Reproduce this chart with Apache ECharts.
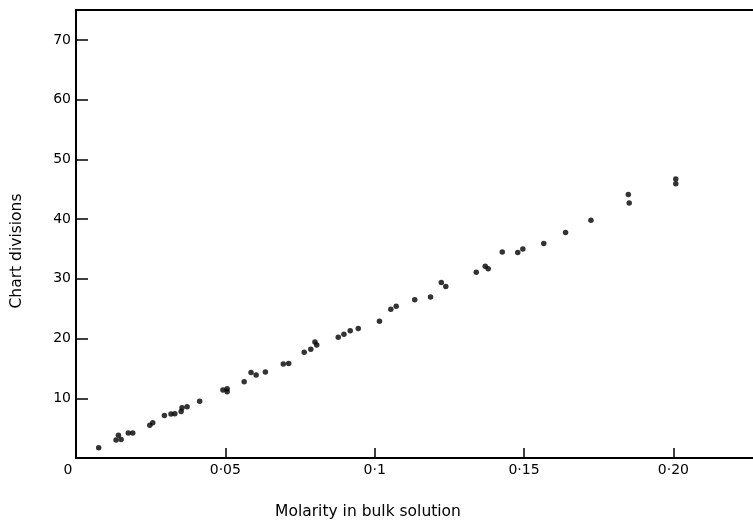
<!DOCTYPE html>
<html>
<head>
<meta charset="utf-8">
<script src="https://cdn.jsdelivr.net/npm/echarts@6/dist/echarts.min.js"></script>
<style>
  html, body { margin: 0; padding: 0; background: #fff; }
  #chart { width: 753px; height: 521px; }
</style>
</head>
<body>
<div id="chart"></div>
<script>
// Molarity of the bulk solution (x) against chart divisions (y)
const molarity = [
  0.0076, 0.0134, 0.0142, 0.0151, 0.0175, 0.0190, 0.0247, 0.0257, 0.0296, 0.0318,
  0.0331, 0.0352, 0.0355, 0.0372, 0.0414, 0.0492, 0.0506, 0.0506, 0.0563, 0.0586,
  0.0603, 0.0634, 0.0694, 0.0712, 0.0764, 0.0786, 0.0800, 0.0806, 0.0878, 0.0897,
  0.0918, 0.0945, 0.1016, 0.1054, 0.1072, 0.1134, 0.1187, 0.1223, 0.1238, 0.1340,
  0.1370, 0.1380, 0.1427, 0.1479, 0.1496, 0.1566, 0.1639, 0.1724, 0.1849, 0.1852,
  0.2008, 0.2008
];
const chartDivisions = [
  1.7, 3.0, 3.8, 3.1, 4.2, 4.2, 5.5, 5.9, 7.1, 7.35,
  7.4, 7.8, 8.4, 8.6, 9.5, 11.4, 11.6, 11.1, 12.75, 14.3,
  13.9, 14.4, 15.75, 15.8, 17.7, 18.2, 19.4, 18.9, 20.2, 20.7,
  21.3, 21.7, 22.9, 24.9, 25.4, 26.5, 26.95, 29.4, 28.7, 31.1,
  32.1, 31.7, 34.5, 34.4, 35.0, 35.9, 37.75, 39.8, 44.1, 42.7,
  46.7, 45.9
];

const xTickValues = [0, 0.05, 0.1, 0.15, 0.2];
const xTickLabels = ['0', '0·05', '0·1', '0·15', '0·20'];
const yTickValues = [10, 20, 30, 40, 50, 60, 70];
const yTickLabels = ['10', '20', '30', '40', '50', '60', '70'];

const xTitle = 'Molarity in bulk solution';
const yTitle = 'Chart divisions';

const points = molarity.map((m, i) => [m, chartDivisions[i]]);

function labelFor(values, labels, v) {
  const k = values.findIndex(t => Math.abs(t - v) < 1e-6);
  return k < 0 ? '' : labels[k];
}

const FONT = '"DejaVu Sans", sans-serif';
const chart = echarts.init(document.getElementById('chart'), null, { renderer: 'canvas' });

chart.setOption({
  animation: false,
  backgroundColor: '#fff',
  grid: {
    left: 76, top: 10, width: 687, height: 448,
    outerBoundsMode: 'none',
    containLabel: false,
    show: true, borderColor: '#000', borderWidth: 2, backgroundColor: 'transparent'
  },
  xAxis: {
    type: 'value',
    min: 0, max: 0.23, interval: 0.05,
    axisLine: { show: true, lineStyle: { color: '#000', width: 2 } },
    axisTick: { show: true, inside: true, length: 10, lineStyle: { color: '#000', width: 1.5 } },
    splitLine: { show: false },
    axisLabel: {
      color: '#000', fontFamily: FONT, fontSize: 14, margin: 5,
      formatter: v => {
        const s = labelFor(xTickValues, xTickLabels, v);
        return v === 0 ? '{z|' + s + '}' : s;
      },
      rich: { z: { padding: [0, 16, 0, 0], color: '#000', fontFamily: FONT, fontSize: 14 } }
    }
  },
  yAxis: {
    type: 'value',
    min: 0, max: 75, interval: 10,
    axisLine: { show: true, lineStyle: { color: '#000', width: 2 } },
    axisTick: { show: true, inside: true, length: 12, lineStyle: { color: '#000', width: 1.5 } },
    splitLine: { show: false },
    axisLabel: {
      color: '#000', fontFamily: FONT, fontSize: 14, margin: 5,
      formatter: v => labelFor(yTickValues, yTickLabels, v)
    }
  },
  graphic: [
    {
      type: 'text',
      x: 368, y: 512,
      style: { text: xTitle, fill: '#000', font: '15.5px ' + FONT, textAlign: 'center', textVerticalAlign: 'middle' }
    },
    {
      type: 'text',
      x: 17, y: 251, rotation: Math.PI / 2,
      style: { text: yTitle, fill: '#000', font: '15.5px ' + FONT, textAlign: 'center', textVerticalAlign: 'middle' }
    }
  ],
  series: [{
    type: 'scatter',
    data: points,
    symbol: 'circle',
    symbolSize: 5.5,
    itemStyle: { color: '#000' }
  }]
});
</script>
</body>
</html>
